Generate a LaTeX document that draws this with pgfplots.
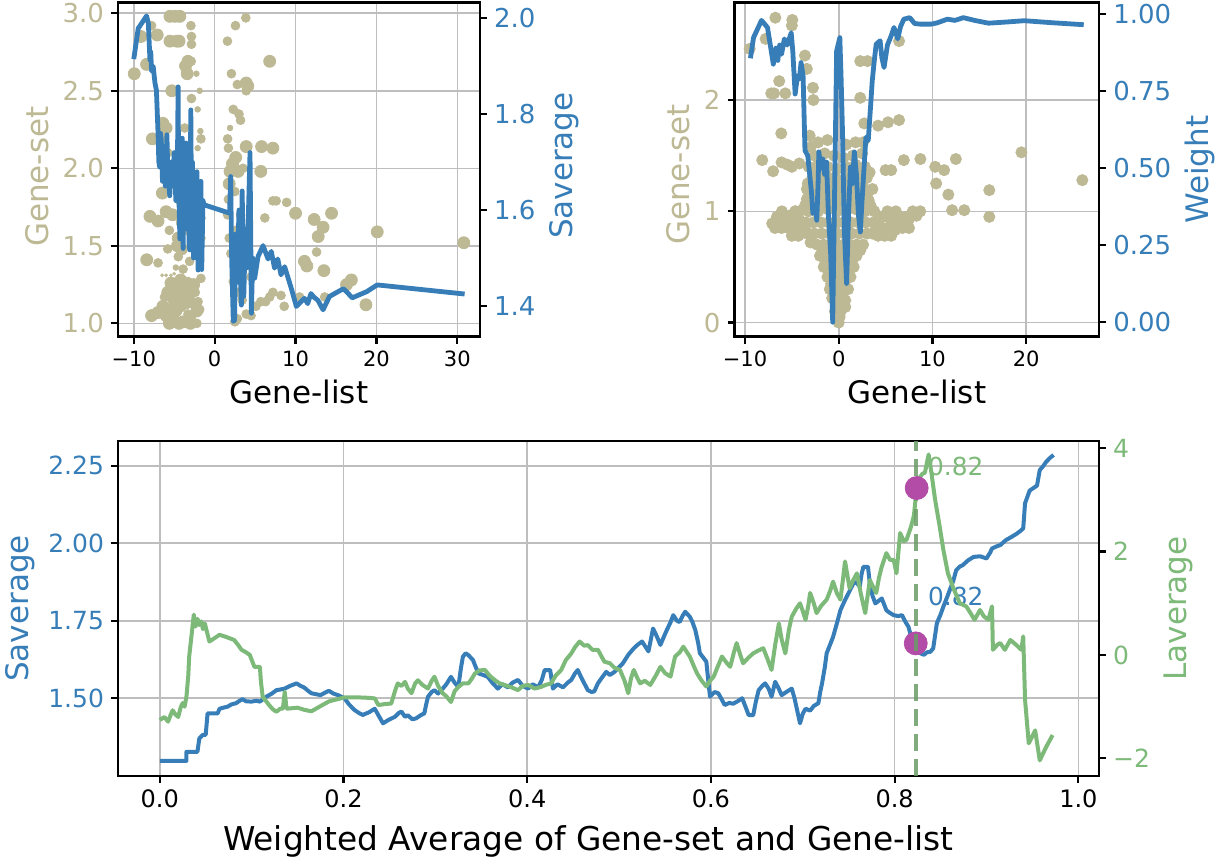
\documentclass[border=0pt]{standalone}
\usepackage{fontspec}
\setmainfont{DejaVu Sans}
\usepackage{pgfplots}
\pgfplotsset{compat=1.18}
\definecolor{scat}{RGB}{189,185,149}
\definecolor{sblue}{RGB}{55,126,184}
\definecolor{sgreen}{RGB}{125,185,120}
\definecolor{smag}{RGB}{178,76,166}
\definecolor{gridc}{RGB}{190,190,190}
\newcommand{\fs}[1]{\fontsize{#1}{#1}\selectfont}
\pgfplotsset{
  base/.style={scale only axis, anchor=south west,
    axis line style={line width=1.2pt, draw=black},
    tick style={line width=1.1pt, draw=black},
    major tick length=3.5pt, tick align=outside,
    clip=true},
  leftax/.style={base, xtick pos=left, ytick pos=left, tick align=outside,
    grid=major, major grid style={line width=0.8pt, draw=gridc}},
  rightax/.style={base, axis x line=none, axis y line*=right, tick align=outside},
  dots/.style={scat, only marks, mark=*, mark size=#1},
}
\begin{document}
\begin{tikzpicture}
\useasboundingbox (0,0) rectangle (608.5pt,429pt);
% ================= TOP LEFT =================
\begin{axis}[leftax, at={(59pt,260.65pt)}, width=181pt, height=167pt,
  xmin=-11.95, xmax=32.8, ymin=0.914, ymax=3.068, axis on top,
  xtick={-10,0,10,20,30}, xticklabels={−10,0,10,20,30},
  ytick={1,1.5,2,2.5,3}, yticklabels={1.0,1.5,2.0,2.5,3.0},
  xticklabel style={font=\fs{10.5}},
  yticklabel style={font=\fs{13}, text=scat},
  xlabel={Gene-list}, ylabel={Gene-set},
  xlabel style={font=\fs{15.5}},
  ylabel style={font=\fs{15.5}, text=scat, xshift=-3.5pt}]
\addplot[dots=3pt] table {
-9.94 2.61
-9.11 2.85
-8.42 2.67
-7.10 2.86
-5.53 2.98
-4.90 2.98
-4.30 2.98
-5.53 2.82
-4.70 2.82
-4.40 2.82
-3.30 2.69
-3.60 2.66
-3.40 2.61
-5.30 2.50
-6.40 2.29
-6.00 2.26
-7.70 2.19
-6.47 1.84
6.80 2.69
3.90 2.55
4.10 2.53
3.90 2.14
5.80 2.14
7.20 2.13
2.60 2.07
2.20 2.03
1.90 1.98
2.90 1.98
5.70 1.98
-6.50 2.20
-5.00 2.00
-4.50 1.90
-4.20 1.80
-3.00 1.60
-4.00 1.65
-5.20 1.70
-6.00 1.72
-4.60 1.50
-8.00 1.69
-7.00 1.66
-8.40 1.41
-7.80 1.05
-7.00 1.07
-6.40 1.11
-5.40 1.26
-5.80 1.20
-4.50 1.55
-4.10 1.48
-4.30 1.11
-5.10 1.02
-3.90 1.01
-5.00 1.15
-4.60 1.22
-4.00 1.18
-3.60 1.13
-4.80 1.08
-3.50 1.25
-6.00 1.05
-5.50 1.18
-4.90 1.25
-4.20 1.28
-3.20 1.15
-2.60 1.25
-3.00 1.00
-5.60 1.00
-4.40 1.00
-2.20 1.08
1.80 1.90
10.00 1.71
12.30 1.67
13.40 1.62
14.45 1.71
12.80 1.56
11.10 1.40
11.40 1.37
13.50 1.34
16.90 1.28
16.30 1.25
18.70 1.12
20.10 1.59
30.80 1.52
};
\addplot[dots=2.2pt] table {
-7.80 2.92
-2.94 2.92
-2.87 2.85
-2.87 2.80
-2.90 2.69
-2.87 2.45
-3.70 2.26
-1.70 2.19
3.85 2.97
2.57 2.92
1.58 2.82
2.07 2.61
2.80 2.54
3.90 2.50
2.30 2.38
3.00 2.35
3.20 2.31
1.60 2.19
1.70 2.13
3.50 2.00
-5.80 2.10
-3.80 2.00
-3.20 1.90
-2.60 1.80
-2.20 1.70
-5.60 1.60
-2.50 1.50
-7.00 1.39
-4.50 1.43
-3.90 1.35
-3.30 1.27
-2.87 1.20
-2.05 1.14
-1.85 1.09
-3.30 1.06
-2.80 1.05
-2.40 1.20
-1.70 1.29
-1.85 1.72
-1.70 1.68
-1.70 1.55
-2.60 1.12
-5.50 1.10
-6.20 1.17
-2.20 1.00
-3.10 1.40
-5.80 1.48
1.70 1.80
1.60 1.70
1.80 1.55
2.00 1.45
2.30 1.27
2.80 1.03
2.50 1.01
3.90 1.06
4.50 1.05
5.10 1.11
5.70 1.14
6.30 1.14
6.80 1.17
7.20 1.20
7.20 1.79
3.00 1.20
3.40 1.15
2.60 1.60
3.20 1.70
2.50 1.85
3.50 1.50
4.50 1.30
7.60 1.79
8.90 1.78
6.20 1.68
8.20 1.18
8.60 1.11
12.60 1.46
13.60 1.17
10.50 1.17
};
\addplot[dots=1.4pt] table {
-2.26 2.61
-1.85 2.50
-2.10 2.38
-1.77 2.24
-2.10 2.13
1.90 2.26
-4.80 1.36
-1.80 1.40
};
\addplot[dots=0.7pt] table {
-6.50 1.31
-6.00 1.31
-5.40 1.31
-5.00 1.32
};
\end{axis}
\begin{axis}[rightax, at={(59pt,260.65pt)}, width=181pt, height=167pt,
  xmin=-11.95, xmax=32.8, ymin=1.336, ymax=2.0325,
  ytick={1.4,1.6,1.8,2.0}, yticklabels={1.4,1.6,1.8,2.0},
  yticklabel style={font=\fs{13}, text=sblue},
  ylabel={Saverage}, ylabel style={font=\fs{15.5}, text=sblue, xshift=2pt}]
\addplot[sblue, line width=2.4pt, line join=round] table {
-10.00 1.915
-9.45 1.979
-8.42 2.005
-8.20 1.990
-8.00 1.913
-7.90 1.930
-7.80 1.890
-7.60 1.900
-7.38 1.865
-7.20 1.850
-7.00 1.760
-6.90 1.700
-6.80 1.690
-6.70 1.760
-6.60 1.746
-6.45 1.660
-6.30 1.700
-6.10 1.650
-5.90 1.757
-5.80 1.680
-5.55 1.630
-5.40 1.700
-5.20 1.650
-5.00 1.720
-4.80 1.620
-4.60 1.700
-4.52 1.857
-4.45 1.650
-4.30 1.540
-4.20 1.700
-4.10 1.600
-4.00 1.750
-3.90 1.520
-3.80 1.680
-3.70 1.600
-3.55 1.740
-3.40 1.560
-3.30 1.700
-3.15 1.524
-3.07 1.517
-2.95 1.809
-2.85 1.560
-2.75 1.700
-2.60 1.500
-2.50 1.650
-2.35 1.520
-2.20 1.680
-2.05 1.475
-1.95 1.640
-1.80 1.500
-1.70 1.660
-1.60 1.476
-1.45 1.620
-1.30 1.611
1.60 1.595
1.84 1.594
1.98 1.670
2.10 1.500
2.30 1.368
2.46 1.370
2.60 1.550
2.80 1.450
3.00 1.600
3.20 1.450
3.30 1.402
3.40 1.640
3.60 1.420
3.80 1.560
4.00 1.480
4.37 1.720
4.54 1.385
4.70 1.500
4.95 1.458
5.36 1.503
5.98 1.526
6.60 1.498
7.00 1.514
7.40 1.479
7.80 1.498
8.20 1.465
8.65 1.482
9.47 1.437
10.10 1.399
11.10 1.416
11.50 1.405
11.90 1.426
12.30 1.418
12.76 1.412
13.40 1.392
14.20 1.420
15.90 1.436
16.30 1.430
17.00 1.417
18.80 1.430
20.10 1.444
30.90 1.425
};
\end{axis}
% ================= TOP RIGHT =================
\begin{axis}[leftax, at={(367.3pt,260.65pt)}, width=182.3pt, height=167pt,
  xmin=-11.11, xmax=27.8, ymin=-0.127, ymax=2.875, axis on top,
  xtick={-10,0,10,20}, xticklabels={−10,0,10,20},
  ytick={0,1,2}, yticklabels={0,1,2},
  xticklabel style={font=\fs{10.5}},
  yticklabel style={font=\fs{13}, text=scat},
  xlabel={Gene-list}, ylabel={Gene-set},
  xlabel style={font=\fs{15.5}},
  ylabel style={font=\fs{15.5}, text=scat, xshift=-2.5pt}]
\addplot[dots=2.8pt] table {
-9.50 2.46
-6.76 2.74
-4.95 2.72
-7.80 2.55
-5.00 2.67
-3.60 2.40
-3.40 2.28
-7.20 2.06
-6.90 2.06
-6.35 2.17
-5.70 2.06
-2.75 2.11
-2.70 2.00
-6.13 1.70
-8.16 1.46
-7.00 1.36
-6.10 1.44
-5.50 1.42
-5.00 1.40
-4.20 1.43
-2.97 1.58
-3.10 1.68
-2.10 1.32
-1.80 1.28
-3.40 1.11
-3.30 1.25
-4.65 1.00
-4.20 1.00
-6.55 0.89
-5.40 0.90
2.30 2.35
3.07 2.35
2.30 2.02
6.44 2.53
6.44 1.82
5.26 1.80
4.20 1.77
2.73 1.79
2.60 1.62
5.00 1.37
5.60 1.37
6.95 1.46
8.72 1.47
10.30 1.40
11.25 1.37
12.50 1.47
10.40 1.25
11.70 1.15
12.10 1.01
13.40 1.01
16.07 1.19
16.07 0.95
19.50 1.53
26.00 1.28
-2.20 1.62
-1.20 1.64
0.80 1.60
1.80 1.62
-2.60 1.50
-1.50 1.52
-0.50 1.50
0.50 1.48
1.50 1.50
2.50 1.52
-3.20 1.40
-2.20 1.42
-1.20 1.40
-0.20 1.38
0.80 1.40
1.80 1.42
2.80 1.40
-2.80 1.30
-1.00 1.30
0.00 1.28
1.00 1.30
2.00 1.32
3.00 1.30
-3.40 1.20
-2.40 1.20
-1.40 1.22
-0.40 1.20
0.60 1.18
1.60 1.20
2.60 1.22
3.60 1.20
-2.80 1.10
-1.80 1.10
-0.80 1.12
0.20 1.10
1.20 1.10
2.20 1.12
3.20 1.10
-3.20 1.00
-2.20 1.00
-1.20 1.02
-0.20 1.00
0.80 1.00
1.80 1.02
2.80 1.00
3.80 1.00
-7.10 0.89
-6.60 0.95
-6.06 1.00
-5.50 0.93
-5.00 0.97
-4.60 1.00
-4.20 0.92
-3.90 0.89
-3.50 0.82
4.20 0.90
4.60 0.95
5.20 1.00
5.70 0.89
6.10 1.00
6.60 0.89
6.00 0.83
7.50 0.93
8.30 0.96
8.70 1.00
7.90 1.00
-3.50 0.90
-2.70 0.90
-1.90 0.90
-1.10 0.90
-0.30 0.90
0.50 0.90
1.30 0.90
2.10 0.90
2.90 0.90
3.70 0.90
-3.40 0.80
-2.60 0.80
-1.80 0.80
-1.00 0.80
-0.20 0.80
0.60 0.80
1.40 0.80
2.20 0.80
3.00 0.80
3.60 0.80
-3.00 0.72
-2.30 0.70
-1.60 0.70
-0.90 0.70
-0.20 0.70
0.50 0.70
1.20 0.70
1.90 0.70
2.60 0.70
-2.00 0.60
-1.40 0.60
-0.70 0.60
0.00 0.60
0.70 0.60
1.40 0.60
1.90 0.60
-1.60 0.50
-0.90 0.50
-0.20 0.50
0.50 0.50
1.20 0.50
1.60 0.50
-1.20 0.41
-0.50 0.40
0.20 0.40
0.90 0.40
1.26 0.41
-0.95 0.30
-0.30 0.30
0.40 0.30
1.00 0.30
-0.70 0.22
0.00 0.20
0.70 0.20
-0.40 0.10
0.20 0.10
0.70 0.14
0.10 0.05
0.00 0.00
-6.80 0.85
-6.10 0.85
-5.40 0.85
-4.70 0.85
-4.00 0.85
4.00 0.85
4.70 0.85
5.40 0.85
6.10 0.85
6.80 0.85
7.50 0.85
-5.00 0.78
-4.30 0.78
4.20 0.78
4.90 0.78
5.60 0.78
-5.80 0.95
-5.10 0.95
-4.40 0.95
4.40 0.95
5.10 0.95
5.80 0.95
6.50 0.95
7.20 0.95
-3.60 1.05
-2.60 1.05
-1.60 1.05
-0.60 1.05
0.40 1.05
1.40 1.05
2.40 1.05
3.40 1.05
-3.00 1.15
-2.00 1.15
-1.00 1.15
0.00 1.15
1.00 1.15
2.00 1.15
3.00 1.15
-2.00 1.25
-1.00 1.25
0.50 1.25
1.50 1.25
2.50 1.25
-2.50 1.35
-1.50 1.35
1.50 1.35
2.50 1.35
3.30 1.35
-1.70 0.65
-1.00 0.65
-0.35 0.65
0.35 0.65
1.00 0.65
1.70 0.65
2.30 0.65
-1.30 0.55
-0.60 0.55
0.10 0.55
0.80 0.55
1.40 0.55
-1.00 0.45
-0.30 0.45
0.40 0.45
1.00 0.45
-0.80 0.35
-0.10 0.35
0.60 0.35
-0.50 0.25
0.30 0.25
-0.20 0.15
0.40 0.15
};
\end{axis}
\begin{axis}[rightax, at={(367.3pt,260.65pt)}, width=182.3pt, height=167pt,
  xmin=-11.11, xmax=27.8, ymin=-0.047, ymax=1.0375,
  ytick={0,0.25,0.5,0.75,1}, yticklabels={0.00,0.25,0.50,0.75,1.00},
  yticklabel style={font=\fs{13}, text=sblue},
  ylabel={Weight}, ylabel style={font=\fs{15.5}, text=sblue}]
\addplot[sblue, line width=2.4pt, line join=round] table {
-9.42 0.857
-9.09 0.924
-8.24 0.980
-7.60 0.957
-7.30 0.900
-6.98 0.838
-6.70 0.890
-6.50 0.850
-6.30 0.900
-6.10 0.870
-5.80 0.920
-5.50 0.900
-5.07 0.940
-4.90 0.880
-4.65 0.741
-4.40 0.800
-4.20 0.790
-4.02 0.843
-3.80 0.800
-3.60 0.558
-3.30 0.540
-3.10 0.480
-2.90 0.420
-2.76 0.354
-2.55 0.380
-2.34 0.331
-2.20 0.450
-2.12 0.553
-1.90 0.500
-1.70 0.530
-1.50 0.480
-1.30 0.520
-1.10 0.350
-0.86 0.223
-0.64 0.000
-0.40 0.500
-0.22 0.881
0.12 0.924
0.25 0.800
0.41 0.612
0.60 0.300
0.84 0.126
1.05 0.350
1.25 0.504
1.45 0.450
1.67 0.553
1.89 0.480
2.10 0.350
2.31 0.293
2.50 0.400
2.70 0.500
2.90 0.600
3.15 0.590
3.40 0.700
3.58 0.784
3.80 0.850
4.00 0.903
4.42 0.914
4.60 0.860
4.84 0.827
5.20 0.900
5.60 0.930
5.90 0.957
6.30 0.920
6.60 0.960
6.95 0.984
7.58 0.989
8.10 0.970
8.64 0.968
9.90 0.968
10.50 0.972
11.60 0.984
12.40 0.980
13.30 0.989
14.50 0.980
16.00 0.971
18.00 0.975
19.80 0.979
23.00 0.972
26.15 0.966
};
\end{axis}
% ================= BOTTOM =================
\begin{axis}[leftax, at={(59pt,41pt)}, width=490.5pt, height=167.5pt,
  xmin=-0.0455, xmax=1.0225, ymin=1.249, ymax=2.33,
  xtick={0,0.2,0.4,0.6,0.8,1.0}, xticklabels={0.0,0.2,0.4,0.6,0.8,1.0},
  ytick={1.5,1.75,2.0,2.25}, yticklabels={1.50,1.75,2.00,2.25},
  xticklabel style={font=\fs{12}},
  yticklabel style={font=\fs{12.5}, text=sblue},
  xlabel={Weighted Average of Gene-set and Gene-list},
  ylabel={Saverage},
  xlabel style={font=\fs{16.4}, xshift=-10pt, yshift=-2pt},
  ylabel style={font=\fs{15.5}, text=sblue}]
\addplot[sblue, line width=2pt, line join=round] table {
0.000 1.298
0.029 1.298
0.029 1.327
0.041 1.327
0.043 1.370
0.047 1.382
0.050 1.382
0.052 1.451
0.063 1.451
0.065 1.466
0.070 1.470
0.074 1.473
0.078 1.480
0.083 1.484
0.087 1.492
0.090 1.497
0.094 1.490
0.100 1.489
0.105 1.492
0.109 1.489
0.113 1.498
0.116 1.505
0.122 1.515
0.127 1.526
0.131 1.528
0.136 1.531
0.142 1.540
0.149 1.548
0.153 1.540
0.157 1.535
0.161 1.525
0.165 1.516
0.170 1.513
0.175 1.510
0.180 1.518
0.184 1.524
0.189 1.515
0.194 1.510
0.201 1.500
0.206 1.480
0.212 1.462
0.217 1.452
0.221 1.446
0.228 1.455
0.234 1.466
0.238 1.445
0.243 1.419
0.249 1.430
0.256 1.440
0.260 1.452
0.263 1.457
0.267 1.440
0.270 1.445
0.275 1.432
0.279 1.435
0.284 1.445
0.288 1.451
0.290 1.480
0.292 1.505
0.296 1.520
0.299 1.526
0.303 1.515
0.308 1.531
0.312 1.545
0.317 1.569
0.321 1.550
0.325 1.537
0.328 1.600
0.330 1.634
0.333 1.645
0.336 1.639
0.341 1.623
0.344 1.600
0.347 1.580
0.352 1.575
0.357 1.569
0.362 1.550
0.368 1.531
0.373 1.545
0.379 1.535
0.384 1.550
0.390 1.559
0.395 1.540
0.401 1.531
0.406 1.545
0.412 1.535
0.416 1.560
0.419 1.591
0.425 1.591
0.428 1.531
0.433 1.545
0.439 1.535
0.444 1.550
0.448 1.559
0.452 1.580
0.455 1.591
0.460 1.560
0.466 1.526
0.470 1.520
0.473 1.522
0.477 1.548
0.481 1.565
0.486 1.585
0.490 1.575
0.495 1.585
0.500 1.600
0.504 1.612
0.510 1.640
0.516 1.661
0.520 1.672
0.525 1.683
0.529 1.665
0.532 1.651
0.537 1.725
0.541 1.700
0.545 1.672
0.549 1.700
0.552 1.720
0.556 1.745
0.559 1.768
0.563 1.750
0.566 1.746
0.569 1.765
0.572 1.779
0.577 1.763
0.580 1.745
0.583 1.720
0.586 1.680
0.588 1.645
0.592 1.630
0.595 1.618
0.597 1.560
0.599 1.505
0.604 1.520
0.608 1.516
0.612 1.495
0.615 1.478
0.620 1.485
0.624 1.482
0.629 1.490
0.634 1.500
0.638 1.470
0.641 1.446
0.646 1.445
0.649 1.490
0.652 1.526
0.656 1.540
0.659 1.548
0.663 1.530
0.666 1.505
0.670 1.553
0.674 1.530
0.677 1.510
0.682 1.520
0.688 1.531
0.691 1.500
0.693 1.473
0.697 1.419
0.700 1.450
0.703 1.466
0.708 1.460
0.712 1.475
0.717 1.484
0.719 1.520
0.721 1.548
0.724 1.600
0.726 1.645
0.730 1.675
0.733 1.698
0.737 1.740
0.741 1.784
0.746 1.817
0.750 1.840
0.755 1.870
0.758 1.875
0.762 1.860
0.764 1.900
0.766 1.924
0.771 1.924
0.773 1.870
0.776 1.830
0.779 1.806
0.783 1.815
0.786 1.822
0.791 1.784
0.795 1.775
0.799 1.768
0.804 1.765
0.808 1.768
0.812 1.745
0.815 1.731
0.819 1.688
0.823 1.677
0.828 1.645
0.832 1.640
0.835 1.648
0.839 1.650
0.842 1.661
0.846 1.742
0.850 1.770
0.853 1.795
0.857 1.825
0.860 1.849
0.864 1.880
0.867 1.913
0.871 1.925
0.874 1.929
0.880 1.945
0.886 1.956
0.893 1.958
0.900 1.951
0.904 1.970
0.906 1.983
0.911 1.990
0.915 1.994
0.921 2.010
0.927 2.020
0.933 2.031
0.937 2.040
0.940 2.048
0.942 2.129
0.947 2.170
0.951 2.178
0.955 2.186
0.958 2.236
0.962 2.250
0.965 2.263
0.969 2.275
0.973 2.285
};
\addplot[smag, only marks, mark=*, mark size=5.75pt] coordinates {(0.823,1.677)};
\node[anchor=west, inner sep=0pt, text=sblue, font=\fs{12.4}] at (axis cs:0.836,1.827) {0.82};
\end{axis}
\begin{axis}[rightax, at={(59pt,41pt)}, width=490.5pt, height=167.5pt,
  xmin=-0.0455, xmax=1.0225, ymin=-2.342, ymax=4.14,
  ytick={-2,0,2,4}, yticklabels={−2,0,2,4},
  yticklabel style={font=\fs{12.5}, text=sgreen},
  ylabel={Laverage}, ylabel style={font=\fs{15.5}, text=sgreen}]
\addplot[sgreen, line width=2pt, line join=round] table {
0.000 -1.26
0.005 -1.20
0.009 -1.29
0.012 -1.15
0.014 -1.07
0.017 -1.15
0.020 -1.20
0.023 -1.00
0.025 -0.93
0.027 -1.00
0.029 -0.81
0.031 -0.40
0.032 -0.03
0.035 0.45
0.037 0.78
0.039 0.55
0.041 0.70
0.043 0.58
0.045 0.65
0.047 0.50
0.049 0.61
0.052 0.40
0.054 0.26
0.060 0.33
0.065 0.39
0.072 0.35
0.081 0.29
0.085 0.20
0.089 0.10
0.094 0.05
0.098 0.00
0.103 -0.23
0.109 -0.23
0.110 -0.50
0.112 -0.81
0.116 -0.90
0.119 -0.97
0.123 -1.05
0.127 -1.10
0.131 -1.04
0.134 -1.04
0.136 -0.71
0.138 -1.04
0.144 -1.03
0.150 -1.02
0.157 -1.06
0.165 -1.09
0.172 -1.02
0.179 -0.95
0.184 -0.90
0.190 -0.87
0.195 -0.85
0.201 -0.82
0.215 -0.82
0.228 -0.83
0.234 -0.84
0.238 -0.97
0.245 -0.95
0.252 -0.94
0.256 -0.70
0.259 -0.55
0.263 -0.60
0.267 -0.52
0.270 -0.65
0.274 -0.74
0.278 -0.55
0.281 -0.49
0.286 -0.58
0.292 -0.65
0.296 -0.50
0.299 -0.42
0.303 -0.60
0.308 -0.74
0.312 -0.80
0.317 -0.91
0.321 -0.70
0.325 -0.62
0.330 -0.55
0.336 -0.55
0.340 -0.45
0.343 -0.36
0.348 -0.30
0.354 -0.29
0.359 -0.40
0.365 -0.49
0.370 -0.55
0.375 -0.58
0.382 -0.62
0.390 -0.68
0.395 -0.60
0.401 -0.58
0.408 -0.65
0.415 -0.62
0.420 -0.58
0.426 -0.55
0.431 -0.40
0.437 -0.29
0.442 -0.10
0.448 0.03
0.452 0.15
0.457 0.26
0.462 0.18
0.466 0.19
0.471 0.10
0.477 0.10
0.480 0.00
0.484 -0.13
0.490 -0.16
0.495 -0.25
0.501 -0.29
0.506 -0.50
0.510 -0.74
0.513 -0.45
0.516 -0.29
0.520 -0.45
0.523 -0.55
0.528 -0.50
0.534 -0.58
0.540 -0.40
0.545 -0.23
0.550 -0.35
0.556 -0.42
0.561 -0.03
0.566 0.05
0.570 0.16
0.574 0.05
0.577 -0.03
0.581 -0.20
0.585 -0.36
0.590 -0.50
0.595 -0.61
0.599 -0.50
0.603 -0.42
0.608 -0.20
0.612 -0.03
0.617 -0.15
0.621 -0.23
0.625 0.05
0.628 0.23
0.632 0.00
0.635 -0.16
0.641 -0.05
0.646 0.03
0.651 0.08
0.657 0.13
0.661 -0.05
0.666 -0.29
0.670 0.20
0.674 0.61
0.677 0.30
0.681 0.03
0.685 0.50
0.688 0.74
0.693 0.90
0.697 1.00
0.700 0.85
0.703 0.68
0.706 0.95
0.708 1.20
0.712 1.00
0.715 0.81
0.720 0.95
0.726 1.07
0.730 1.25
0.733 1.42
0.737 1.20
0.741 1.07
0.744 1.50
0.746 1.81
0.751 1.29
0.755 1.45
0.759 1.58
0.763 1.20
0.768 0.81
0.773 1.45
0.777 1.30
0.780 1.20
0.783 1.50
0.786 1.71
0.791 1.97
0.795 1.84
0.799 1.84
0.802 1.58
0.806 2.36
0.810 2.20
0.813 2.23
0.818 2.49
0.821 2.70
0.824 3.23
0.826 3.40
0.830 3.50
0.833 3.53
0.837 3.88
0.840 3.53
0.844 3.01
0.849 2.49
0.853 2.04
0.858 1.58
0.864 1.29
0.871 1.00
0.878 0.94
0.883 0.80
0.887 0.68
0.893 0.87
0.897 0.75
0.902 0.68
0.906 0.94
0.907 0.10
0.912 0.20
0.915 0.23
0.920 0.10
0.926 0.29
0.932 0.20
0.938 0.10
0.940 0.36
0.942 -0.87
0.946 -1.71
0.953 -1.46
0.958 -2.04
0.965 -1.78
0.972 -1.55
};
\addplot[sgreen!85!black, line width=2pt, dash pattern=on 8.5pt off 4pt, opacity=0.85] coordinates {(0.823,-2.342) (0.823,4.14)};
\addplot[smag, only marks, mark=*, mark size=5.75pt] coordinates {(0.824,3.23)};
\node[anchor=west, inner sep=0pt, text=sgreen, font=\fs{12.4}] at (axis cs:0.836,3.64) {0.82};
\end{axis}
\end{tikzpicture}
\end{document}
